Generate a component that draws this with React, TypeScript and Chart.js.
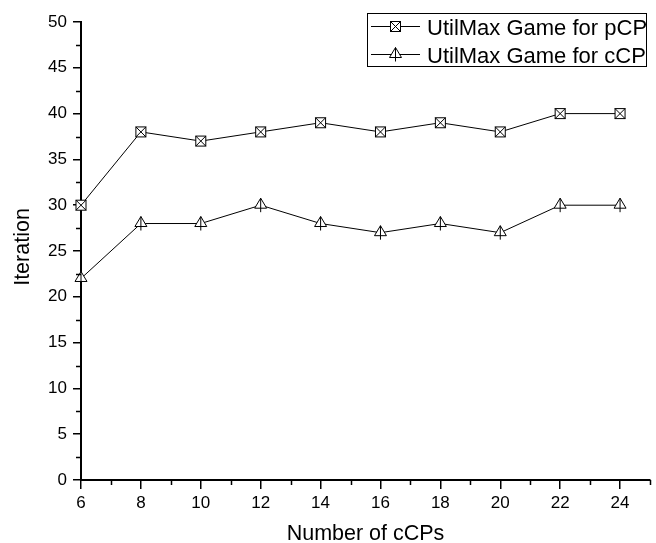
import React, { useEffect, useRef } from "react";
import { Chart, registerables } from "chart.js";
Chart.register(...registerables);

const cCPs = [6, 8, 10, 12, 14, 16, 18, 20, 22, 24];
const pcpIterations = [30, 38, 37, 38, 39, 38, 39, 38, 40, 40];
const ccpIterations = [22, 28, 28, 30, 28, 27, 28, 27, 30, 30];
const seriesLabels = ["UtilMax Game for pCP", "UtilMax Game for cCP"];
const xAxisTitle = "Number of cCPs";
const yAxisTitle = "Iteration";
const xMinorTicks = [7, 9, 11, 13, 15, 17, 19, 21, 23, 25];
const yMinorTicks = [2.5, 7.5, 12.5, 17.5, 22.5, 27.5, 32.5, 37.5, 42.5, 47.5];

const FONT = '"Liberation Sans", Arial, sans-serif';

function drawSquareMarker(ctx: CanvasRenderingContext2D, x: number, y: number) {
  const s = 5;
  ctx.save();
  ctx.fillStyle = "#fff";
  ctx.strokeStyle = "#000";
  ctx.lineWidth = 1;
  ctx.fillRect(x - s, y - s, 2 * s, 2 * s);
  ctx.strokeRect(x - s, y - s, 2 * s, 2 * s);
  ctx.beginPath();
  ctx.moveTo(x - s, y - s);
  ctx.lineTo(x + s, y + s);
  ctx.moveTo(x + s, y - s);
  ctx.lineTo(x - s, y + s);
  ctx.stroke();
  ctx.restore();
}

function drawTriangleMarker(ctx: CanvasRenderingContext2D, x: number, y: number) {
  ctx.save();
  ctx.fillStyle = "#fff";
  ctx.strokeStyle = "#000";
  ctx.lineWidth = 1;
  ctx.beginPath();
  ctx.moveTo(x, y - 7);
  ctx.lineTo(x + 6, y + 3);
  ctx.lineTo(x - 6, y + 3);
  ctx.closePath();
  ctx.fill();
  ctx.stroke();
  ctx.beginPath();
  ctx.moveTo(x, y - 7);
  ctx.lineTo(x, y + 7);
  ctx.stroke();
  ctx.restore();
}

const markers = [drawSquareMarker, drawTriangleMarker];

const decorPlugin = {
  id: "decor",
  afterDatasetsDraw(chart: any) {
    const ctx = chart.ctx as CanvasRenderingContext2D;
    chart.data.datasets.forEach((_: any, i: number) => {
      const meta = chart.getDatasetMeta(i);
      meta.data.forEach((pt: any) => markers[i](ctx, pt.x, pt.y));
    });
  },
  afterDraw(chart: any) {
    const ctx = chart.ctx as CanvasRenderingContext2D;
    const xs = chart.scales.x;
    const ys = chart.scales.y;
    const area = chart.chartArea;
    ctx.save();
    ctx.strokeStyle = "#000";
    ctx.lineWidth = 1.5;
    ctx.beginPath();
    xMinorTicks.forEach((v) => {
      const px = Math.round(xs.getPixelForValue(v)) + 0.5;
      ctx.moveTo(px, area.bottom);
      ctx.lineTo(px, area.bottom + 5);
    });
    yMinorTicks.forEach((v) => {
      const py = Math.round(ys.getPixelForValue(v)) + 0.5;
      ctx.moveTo(area.left - 5, py);
      ctx.lineTo(area.left, py);
    });
    ctx.stroke();

    // axis titles
    ctx.fillStyle = "#000";
    ctx.font = `21.5px ${FONT}`;
    ctx.textAlign = "center";
    ctx.textBaseline = "alphabetic";
    ctx.fillText(xAxisTitle, (area.left + area.right) / 2, 540);
    ctx.save();
    ctx.translate(29, 247);
    ctx.rotate(-Math.PI / 2);
    ctx.fillText(yAxisTitle, 0, 0);
    ctx.restore();

    // legend
    ctx.lineWidth = 1;
    ctx.strokeRect(367.5, 13.5, 279, 53);
    const rows = [26, 54];
    const baselines = [35, 63];
    ctx.font = `22px ${FONT}`;
    ctx.textAlign = "left";
    rows.forEach((ry, i) => {
      ctx.beginPath();
      ctx.moveTo(371, ry + 0.5);
      ctx.lineTo(420, ry + 0.5);
      ctx.stroke();
      markers[i](ctx, 395.5, ry + 0.5);
      ctx.fillStyle = "#000";
      ctx.fillText(seriesLabels[i], 427, baselines[i]);
    });
    ctx.restore();
  },
};

export default function App() {
  const ref = useRef<HTMLCanvasElement>(null);
  useEffect(() => {
    if (!ref.current) return;
    const mk = (vals: number[], label: string) => ({
      label,
      data: cCPs.map((x, i) => ({ x, y: vals[i] })),
      borderColor: "#000",
      borderWidth: 1,
      pointRadius: 0,
      tension: 0,
      fill: false,
    });
    const chart = new Chart(ref.current, {
      type: "line",
      data: {
        datasets: [mk(pcpIterations, seriesLabels[0]), mk(ccpIterations, seriesLabels[1])],
      },
      options: {
        animation: false,
        responsive: false,
        layout: { padding: { top: 22, right: 6, left: 0, bottom: 0 } },
        plugins: { legend: { display: false }, tooltip: { enabled: false } },
        scales: {
          x: {
            type: "linear",
            min: 6,
            max: 25,
            afterFit: (s: any) => {
              s.height = 63;
            },
            ticks: {
              stepSize: 2,
              includeBounds: false,
              color: "#000",
              padding: 4,
              font: { family: FONT, size: 17 },
              maxRotation: 0,
            },
            grid: {
              drawOnChartArea: false,
              drawTicks: true,
              tickLength: 9,
              color: "#000",
              lineWidth: 1.5,
            },
            border: { display: true, color: "#000", width: 2 },
          },
          y: {
            type: "linear",
            min: 0,
            max: 50,
            afterFit: (s: any) => {
              s.width = 81;
            },
            ticks: {
              stepSize: 5,
              includeBounds: false,
              color: "#000",
              padding: 6,
              font: { family: FONT, size: 17 },
            },
            grid: {
              drawOnChartArea: false,
              drawTicks: true,
              tickLength: 8,
              color: "#000",
              lineWidth: 1.5,
            },
            border: { display: true, color: "#000", width: 2 },
          },
        },
      },
      plugins: [decorPlugin],
    } as any);
    return () => chart.destroy();
  }, []);
  return (
    <div style={{ position: "fixed", left: 0, top: 0, width: 656, height: 543, background: "#fff" }}>
      <canvas ref={ref} width={656} height={543} style={{ display: "block" }} />
    </div>
  );
}
